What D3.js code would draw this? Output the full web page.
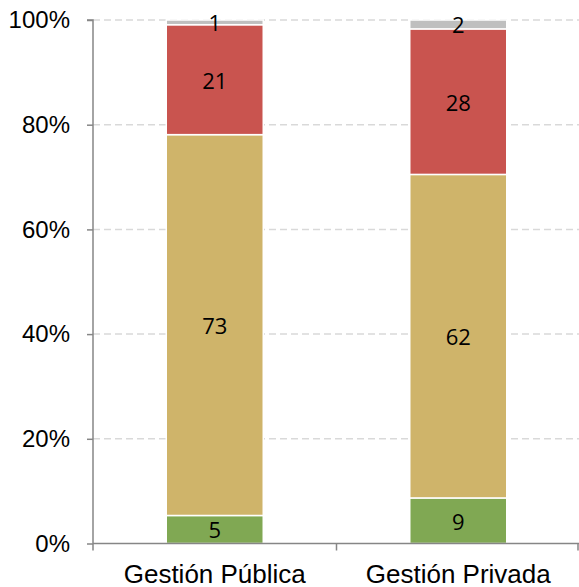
<!DOCTYPE html>
<html>
<head>
<meta charset="utf-8">
<script src="https://cdn.jsdelivr.net/npm/d3@7"></script>
<style>
  body { margin: 0; background: #fff; }
  svg { display: block; font-family: 'Open Sans', 'Noto Sans', sans-serif; }
</style>
</head>
<body>
<div id="chart"></div>
<script>
// datos (porcentajes)
const categories = ['Gestión Pública', 'Gestión Privada'];
const verde = [5.35, 8.7];
const amarillo = [72.75, 61.8];
const rojo = [21.0, 27.8];
const gris = [0.9, 1.7];
const yTicks = [0, 20, 40, 60, 80, 100];

const seriesKeys = ['verde', 'amarillo', 'rojo', 'gris'];
const colors = ['#80a853', '#cfb46a', '#c9544f', '#bfbfbf'];

const width = 579;
const height = 587;
const mLeft = 93, mRight = 580, mTop = 20, mBottom = 543.5;

const table = categories.map((c, i) => ({
  cat: c, verde: verde[i], amarillo: amarillo[i], rojo: rojo[i], gris: gris[i]
}));

const svg = d3.select('#chart')
  .append('svg')
  .attr('width', width)
  .attr('height', height);

const x = d3.scaleBand().domain(categories).range([mLeft, mRight]);
const y = d3.scaleLinear().domain([0, 100]).range([mBottom, mTop]);
const color = d3.scaleOrdinal().domain(seriesKeys).range(colors);

// lineas de cuadricula
svg.append('g')
  .selectAll('line')
  .data(yTicks.filter(d => d > 0))
  .enter().append('line')
  .attr('x1', mLeft)
  .attr('x2', width)
  .attr('y1', d => y(d))
  .attr('y2', d => y(d))
  .attr('stroke', '#d9d9d9')
  .attr('stroke-width', 1.5)
  .attr('stroke-dasharray', '7,4');

const stack = d3.stack().keys(seriesKeys);
const layers = stack(table);

const barW = 97;

const layer = svg.append('g')
  .selectAll('g')
  .data(layers)
  .enter().append('g')
  .attr('fill', d => color(d.key));

layer.selectAll('rect')
  .data(d => d)
  .enter().append('rect')
  .attr('x', d => x(d.data.cat) + x.bandwidth() / 2 - barW / 2)
  .attr('width', barW)
  .attr('y', d => y(d[1]))
  .attr('height', d => y(d[0]) - y(d[1]))
  .attr('stroke', '#fff')
  .attr('stroke-width', 1.5);

layer.selectAll('text')
  .data(d => d)
  .enter().append('text')
  .attr('x', d => x(d.data.cat) + x.bandwidth() / 2)
  .attr('y', d => (y(d[0]) + y(d[1])) / 2)
  .attr('text-anchor', 'middle')
  .attr('dominant-baseline', 'central')
  .attr('fill', '#000')
  .style('font-size', '22px')
  .text(d => d3.format('.0f')(d[1] - d[0]));

// eje Y
const yAxis = d3.axisLeft(y)
  .tickValues(yTicks)
  .tickSize(6)
  .tickPadding(17)
  .tickFormat(d => d + '%');

const gy = svg.append('g')
  .attr('transform', `translate(${mLeft},0)`)
  .call(yAxis);
gy.select('.domain').attr('stroke', '#868686').attr('stroke-width', 1.5)
  .attr('d', `M-6,${mTop}H0V${mBottom}`);
gy.selectAll('.tick line').attr('stroke', '#868686').attr('stroke-width', 1.5);
gy.selectAll('.tick text')
  .attr('fill', '#000')
  .style('font-size', '24px')
  .attr('font-family', null);

// eje X
const xAxis = d3.axisBottom(x).tickSize(0);
const gx = svg.append('g')
  .attr('transform', `translate(0,${mBottom})`)
  .call(xAxis);
gx.select('.domain').attr('stroke', '#868686').attr('stroke-width', 1.5)
  .attr('d', `M${mLeft},0H${width}`);
gx.selectAll('.tick text')
  .attr('fill', '#000')
  .attr('y', 39)
  .attr('dy', null)
  .style('font-size', '26px')
  .attr('font-family', null);

// marcas de separacion entre categorias
const seps = [mLeft, ...categories.map(c => x(c) + x.bandwidth())];
gx.selectAll('.sep')
  .data(seps)
  .enter().append('line')
  .attr('class', 'sep')
  .attr('x1', d => Math.min(d, width - 1))
  .attr('x2', d => Math.min(d, width - 1))
  .attr('y1', 0)
  .attr('y2', 7)
  .attr('stroke', '#868686')
  .attr('stroke-width', 1.5);
</script>
</body>
</html>
